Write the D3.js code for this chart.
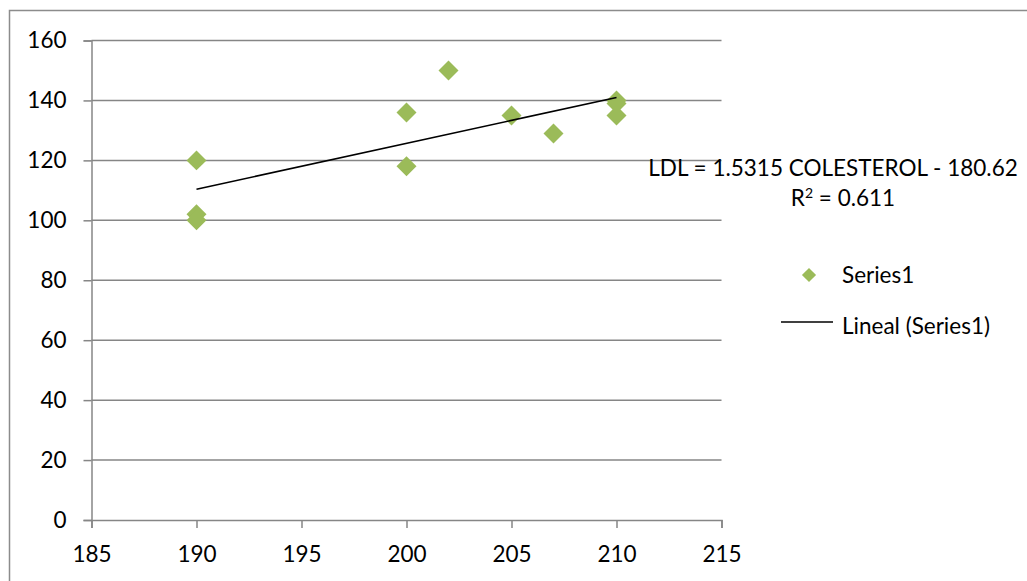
<!DOCTYPE html>
<html>
<head>
<meta charset="utf-8">
<script src="https://cdn.jsdelivr.net/npm/d3@7"></script>
<style>
  body { margin: 0; background: #fff; }
  svg { display: block; font-family: Lato, "Liberation Sans", sans-serif; }
</style>
</head>
<body>
<svg id="chart" width="1027" height="581"></svg>
<script>
// Data
const colesterol = [190, 190, 190, 200, 200, 202, 205, 207, 210, 210, 210];
const ldl        = [120, 102, 100, 136, 118, 150, 135, 129, 140, 139, 135];
const xTicks = [185, 190, 195, 200, 205, 210, 215];
const yTicks = [0, 20, 40, 60, 80, 100, 120, 140, 160];
const seriesName = "Series1";
const trendName = "Lineal (Series1)";
const slope = 1.5315, intercept = -180.62, r2 = 0.611;
const equationText = "LDL = 1.5315 COLESTEROL - 180.62";

const svg = d3.select("#chart");
const grid = "#868686", green = "#9bbb59";
const fs = 22.5;

// outer chart border
svg.append("rect").attr("x", 9.5).attr("y", 10.5).attr("width", 1040).attr("height", 600)
  .attr("fill", "none").attr("stroke", "#8c8c8c").attr("stroke-width", 1.5);

const x = d3.scaleLinear().domain([185, 215]).range([91.5, 721.5]);
const y = d3.scaleLinear().domain([0, 160]).range([520, 40.5]);

// gridlines
svg.append("g").selectAll("line").data(yTicks.filter(d => d > 0)).join("line")
  .attr("x1", x(185)).attr("x2", x(215))
  .attr("y1", d => y(d)).attr("y2", d => y(d))
  .attr("stroke", grid).attr("stroke-width", 1.5);

// y axis
const yAxis = svg.append("g").attr("transform", `translate(${x(185)},0)`)
  .call(d3.axisLeft(y).tickValues(yTicks).tickSize(8).tickPadding(17));
yAxis.select(".domain").attr("stroke", grid).attr("stroke-width", 1.5);
yAxis.selectAll(".tick line").attr("stroke", grid).attr("stroke-width", 1.5);
yAxis.selectAll("text").attr("font-size", fs).attr("fill", "#000").attr("font-family", "Lato");

// x axis
const xAxis = svg.append("g").attr("transform", `translate(0,${y(0)})`)
  .call(d3.axisBottom(x).tickValues(xTicks).tickSize(8).tickPadding(18));
xAxis.select(".domain").attr("stroke", grid).attr("stroke-width", 1.5);
xAxis.selectAll(".tick line").attr("stroke", grid).attr("stroke-width", 1.5);
xAxis.selectAll("text").attr("font-size", fs).attr("fill", "#000").attr("font-family", "Lato");

// points
const diamond = d3.symbol().type(d3.symbolSquare).size(200);
svg.append("g").selectAll("path").data(colesterol.map((c, i) => [c, ldl[i]])).join("path")
  .attr("d", diamond)
  .attr("transform", d => `translate(${x(d[0])},${y(d[1])}) rotate(45)`)
  .attr("fill", green);

// trendline
const xmin = d3.min(colesterol), xmax = d3.max(colesterol);
svg.append("line")
  .attr("x1", x(xmin)).attr("y1", y(slope * xmin + intercept))
  .attr("x2", x(xmax)).attr("y2", y(slope * xmax + intercept))
  .attr("stroke", "#000").attr("stroke-width", 1.6);

// equation label
const eq = svg.append("g").attr("font-size", fs).attr("fill", "#000").attr("text-anchor", "middle");
eq.append("text").attr("x", 833).attr("y", 176).text(equationText);
const r2t = eq.append("text").attr("x", 843).attr("y", 206);
r2t.append("tspan").text("R");
r2t.append("tspan").attr("dy", -8).attr("font-size", 14).text("2");
r2t.append("tspan").attr("dy", 8).text(" = " + r2);

// legend
const leg = svg.append("g");
leg.append("path").attr("d", d3.symbol().type(d3.symbolSquare).size(100))
  .attr("transform", "translate(809,275) rotate(45)").attr("fill", green);
leg.append("text").attr("x", 842).attr("y", 283).attr("font-size", fs).text(seriesName);
leg.append("line").attr("x1", 781).attr("x2", 833).attr("y1", 322).attr("y2", 322)
  .attr("stroke", "#000").attr("stroke-width", 1.6);
leg.append("text").attr("x", 842).attr("y", 334).attr("font-size", fs).text(trendName);
</script>
</body>
</html>
